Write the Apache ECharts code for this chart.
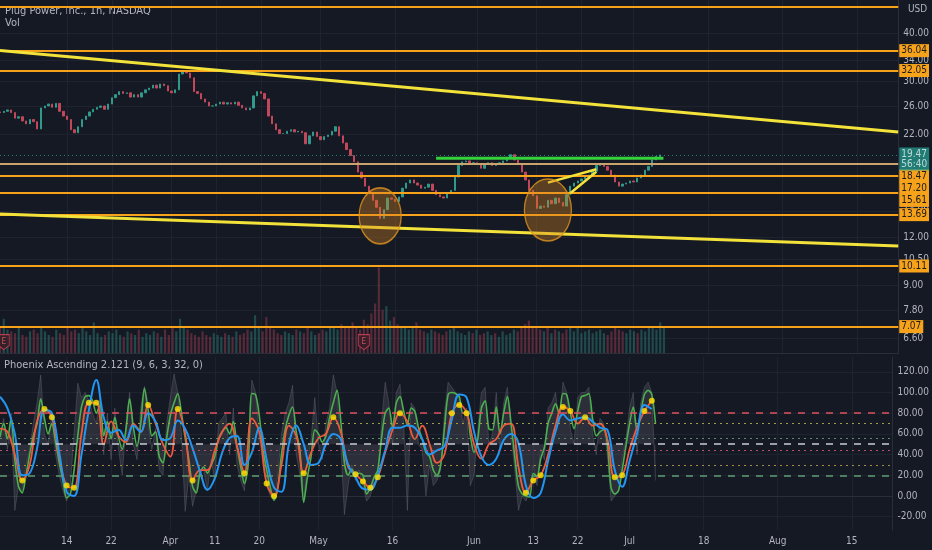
<!DOCTYPE html>
<html lang="en">
<head>
<meta charset="UTF-8"/>
<title>PLUG 1h</title>
<script src="https://cdn.jsdelivr.net/npm/echarts@6/dist/echarts.min.js"></script>
<style>
  html, body { margin: 0; padding: 0; background: #151924; }
  #main { width: 932px; height: 550px; }
</style>
</head>
<body>
<div id="main"></div>
<script>
// ---- data ----
const holidays = ['2022-04-15', '2022-05-30', '2022-06-20', '2022-07-04'];
const tickDates = ['2022-03-14', '2022-03-22', '2022-04-01', '2022-04-11', '2022-04-20', '2022-05-02',
  '2022-05-16', '2022-06-01', '2022-06-13', '2022-06-22', '2022-07-01', '2022-07-18', '2022-08-01', '2022-08-15'];
const tickLabels = ['14', '22', 'Apr', '11', '20', 'May', '16', 'Jun', '13', '22', 'Jul', '18', 'Aug', '15'];
const priceTicks = [40, 34, 30, 26, 22, 14, 12, 10.5, 9, 7.8, 6.6];
const oscTicks = [-20, 0, 20, 40, 60, 80, 100, 120];

// half-day closes, 1 Mar .. 7 Jul 2022
const firstOpen = 25.1;
const closes = [
  25.0, 25.2, 25.4, 25.0, 24.2, 24.4, 23.8, 23.4, 24.0, 23.7,
  22.7, 25.7, 26.0, 26.3, 25.8, 26.4, 25.2, 24.5, 24.0, 22.6,
  22.2, 23.0, 24.0, 24.5, 25.1, 25.5, 25.8, 26.0, 25.5, 26.3,
  27.3, 27.8, 28.3, 28.0, 28.1, 27.4, 27.8, 27.4, 28.1, 28.6,
  28.9, 29.4, 28.9, 29.6, 29.3, 28.4, 28.1, 28.6, 31.4, 32.0,
  31.6, 30.7, 28.3, 28.0, 27.1, 26.6, 26.0, 26.0, 26.3, 26.6,
  26.3, 26.5, 26.3, 26.6, 26.1, 25.7, 25.4, 25.7, 27.6, 28.3,
  28.0, 27.1, 24.5, 23.4, 22.6, 22.1, 22.1, 22.4, 22.6, 22.3,
  22.4, 22.2, 20.8, 21.8, 22.3, 21.7, 21.3, 21.7, 21.9, 22.4,
  23.0, 21.8, 20.9, 20.1, 19.4, 18.7, 17.6, 17.0, 16.2, 15.6,
  14.9, 14.3, 13.4, 14.1, 15.1, 15.0, 14.8, 15.2, 16.0, 16.5,
  16.8, 16.5, 16.3, 16.0, 16.1, 16.4, 15.8, 15.4, 15.2, 15.1,
  15.5, 15.8, 17.1, 18.3, 18.7, 18.8, 18.4, 18.6, 18.4, 18.0,
  18.5, 18.6, 18.3, 18.5, 18.6, 18.8, 19.2, 19.5, 18.9, 18.4,
  17.6, 16.8, 15.8, 15.3, 14.2, 14.4, 14.3, 14.9, 14.6, 15.1,
  14.7, 14.4, 15.4, 16.2, 16.5, 16.7, 16.9, 17.1, 17.3, 17.7,
  18.3, 18.4, 18.2, 17.8, 17.3, 16.6, 16.2, 16.4, 16.5, 16.7,
  16.6, 17.0, 17.3, 17.8, 18.2, 18.9, 19.3, 19.47
];
const volumes = [
  30, 38, 26, 24, 22, 28, 20, 18, 24, 26,
  22, 30, 24, 20, 18, 26, 22, 20, 28, 24,
  26, 22, 30, 24, 20, 34, 22, 18, 20, 24,
  22, 26, 20, 18, 24, 22, 20, 26, 18, 22,
  20, 24, 22, 18, 26, 20, 28, 24, 38, 30,
  26, 22, 20, 18, 24, 20, 18, 22, 20, 18,
  22, 20, 18, 24, 20, 22, 26, 24, 42, 30,
  24, 40, 28, 26, 22, 20, 24, 22, 20, 26,
  24, 22, 28, 24, 20, 22, 26, 24, 28, 30,
  26, 32, 28, 30, 34, 30, 26, 37, 32, 44,
  55, 95, 48, 52, 36, 40, 32, 30, 28, 26,
  30, 34, 26, 24, 22, 26, 24, 22, 20, 24,
  26, 30, 24, 22, 20, 24, 22, 26, 20, 22,
  24, 20, 22, 18, 24, 20, 22, 26, 24, 30,
  32, 36, 28, 30, 26, 24, 28, 22, 26, 24,
  22, 26, 30, 24, 28, 22, 24, 26, 22, 24,
  26, 22, 20, 24, 28, 26, 24, 22, 26, 24,
  22, 26, 24, 28, 30, 26, 34, 30
];

// drawn levels and lines (prices)
const levelPrices = [46.8, 36.04, 32.05, 18.47, 17.20, 15.61, 13.69, 10.11, 7.07];
const lastPrice = 19.47;
const countdown = '56:40';
const greenLevel = { from: 117, to: 178, price: 19.1 };
const trendLines = [
  [[0, 36.1], [241, 22.3]],
  [[0, 13.75], [241, 11.38]],
  [[147, 16.54], [160, 17.9]],
  [[153, 15.53], [160, 17.64]]
];
const ellipseCenters = [[102, 13.59], [147, 14.07]];
const earningsDays = ['2022-03-01', '2022-05-09'];

// oscillator: fast (green) and histogram (grey) per half-day, red/blue per day
const greenOsc = [
  57, 70, 55, 75, 35, 9, 3, 20, 40, 58,
  70, 94, 75, 60, 70, 52, 32, 15, -2, 2,
  25, 58, 86, 96, 97, 92, 80, 88, 58, 72,
  55, 76, 57, 45, 64, 94, 67, 48, 70, 104,
  83, 58, 62, 38, 32, 56, 78, 90, 99, 80,
  56, 35, 9, 3, 22, 28, 22, 30, 38, 55,
  62, 66, 60, 72, 48, 28, 12, 30, 99, 98,
  78, 45, 25, 8, -4, 8, 40, 64, 78, 86,
  62, 44, -6, 18, 38, 64, 60, 52, 58, 76,
  90, 102, 73, 32, 20, 26, 20, 22, 20, 2,
  8, 18, 25, 55, 80, 85, 66, 90, 96, 82,
  68, 85, 82, 66, 55, 42, 38, 25, 20, 30,
  65, 98, 100, 99, 96, 80, 82, 58, 42, 55,
  85, 92, 65, 64, 86, 60, 80, 96, 70, 38,
  9, 2, 0, -1, 22, 19, 36, 47, 70, 80,
  89, 80, 99, 98, 80, 65, 82, 96, 97, 99,
  75, 58, 62, 64, 50, 8, 2, 5, 25, 48,
  70, 86, 64, 80, 98, 102, 98, 70
];
const greyOsc = [
  60, 75, 45, 80, -14, 10, 5, 30, 45, 70,
  90, 117, 60, 50, 80, 40, 20, 5, -5, 10,
  60, 109, 95, 100, 92, 80, 70, 95, 40, 80,
  35, 85, 45, 20, 70, 100, 50, 35, 85, 106,
  70, 45, 65, 25, 20, 70, 95, 118, 100, 60,
  -15, 20, -10, 5, 30, 25, 5, 35, 15, 70,
  75, 80, 40, 85, 30, 15, 5, 45, 112, 100,
  60, 30, 10, 0, -5, 20, 60, 80, 90, 107,
  40, 20, -7, 30, 55, 95, 50, 35, 70, 85,
  117, 100, 50, -18, 10, 30, 15, 25, 10, -5,
  0, 15, 20, 70, 110, 90, 50, 100, 108, 70,
  -14, 90, 85, 50, 45, 0, 30, 10, 15, 25,
  80, 110, 105, 100, 95, 70, 85, 10, 20, 65,
  100, 105, 50, 60, 100, 45, 90, 105, 60, 25,
  -14, 0, -5, 5, 30, 10, 45, 35, 85, 90,
  100, 70, 110, 100, 65, 50, 95, 100, 100, 105,
  60, 40, 75, 70, 40, -5, 0, 5, 35, 55,
  85, 100, 40, 90, 105, 110, 100, 15
];
const redOsc = [
  65, 62, 40, 15, 30, 72, 84, 76, 38, 10,
  8, 60, 90, 90, 50, 72, 58, 52, 70, 62,
  88, 70, 50, 38, 84, 60, 15, 25, 25, 44,
  62, 70, 48, 22, 75, 62, 12, 0, 30, 68,
  58, 22, 42, 56, 60, 76, 62, 28, 21, 14,
  8, 18, 42, 64, 80, 72, 55, 68, 50, 32,
  40, 80, 88, 80, 50, 36, 50, 55, 68, 70,
  28, 3, 15, 20, 40, 68, 86, 82, 70, 76,
  68, 70, 55, 18, 20, 45, 66, 82, 92
];
const blueOsc = [
  96, 85, 60, 20, 22, 46, 83, 80, 42, 4,
  0, 40, 83, 112, 76, 61, 64, 54, 68, 62,
  80, 72, 54, 56, 73, 65, 46, 24, 6, 17,
  42, 56, 58, 30, 42, 66, 35, 8, 4, 50,
  68, 50, 30, 32, 50, 60, 55, 30, 18, 7,
  6, 20, 44, 66, 66, 68, 66, 55, 40, 44,
  48, 74, 98, 95, 62, 38, 30, 36, 54, 60,
  51, 10, -2, 3, 34, 62, 79, 73, 75, 76,
  72, 66, 64, 25, 9, 34, 60, 88, 84
];
const oscLevels = [80, 70, 56, 50, 44, 30, 20];

// ---- axis categories (trading half-days) ----
function buildDays() {
  const out = [];
  const d = new Date(Date.UTC(2022, 2, 1));
  const end = Date.UTC(2022, 7, 22);
  while (d.getTime() <= end) {
    const wd = d.getUTCDay();
    const s = d.toISOString().slice(0, 10);
    if (wd !== 0 && wd !== 6 && holidays.indexOf(s) < 0) out.push(s);
    d.setUTCDate(d.getUTCDate() + 1);
  }
  return out;
}
const days = buildDays();
const halfDays = [];
days.forEach(function (d) { halfDays.push(d + ' AM', d + ' PM'); });

const tickMap = {};
tickDates.forEach(function (d, i) { tickMap[d + ' AM'] = tickLabels[i]; });
const isTick = function (i, v) { return tickMap[v] !== undefined; };

const upColor = '#2f998c';
const downColor = '#c1485a';
const candles = closes.map(function (c, i) {
  const o = i === 0 ? firstOpen : closes[i - 1];
  return [o, c, Math.min(o, c), Math.max(o, c)];
});
const volData = volumes.map(function (v, i) {
  const up = candles[i][1] >= candles[i][0];
  return { value: v, itemStyle: { color: up ? 'rgba(47,153,140,0.38)' : 'rgba(193,72,90,0.38)' } };
});
const dailyPts = function (arr) { return arr.map(function (v, d) { return [2 * d, v]; }); };
const dots = dailyPts(redOsc).filter(function (p) { return p[1] >= 76 || p[1] <= 22; });

// ---- styles ----
const font = "'DejaVu Sans Condensed', 'Liberation Sans Narrow', 'Roboto', sans-serif";
const txt = '#b2b5be';
const gridLine = '#1f2330';
const sepLine = '#2a2e39';
const levelColor = '#f7a21b';
const nudge = { 18.47: 12, 17.2: 12, 15.61: 8 };
const oscStyle = {
  80: { color: '#e0525c', type: [7, 7], width: 1.5 },
  70: { color: '#9f9d4a', type: [2, 4], width: 1.2 },
  56: { color: '#5c8c6a', type: [2, 4], width: 1.2 },
  50: { color: '#c9cbd1', type: [7, 7], width: 1.5 },
  44: { color: '#b9506e', type: [2, 4], width: 1.2 },
  30: { color: '#a68a48', type: [2, 4], width: 1.2 },
  20: { color: '#5f9e72', type: [7, 7], width: 1.5 }
};

const levelLines = levelPrices.map(function (p, i) {
  return {
    yAxis: p,
    lineStyle: { color: p === 18.47 ? '#c9a46c' : levelColor, width: 2, type: 'solid' },
    label: i === 0 ? { show: false } : {
      show: true, position: 'end', distance: 1, formatter: p.toFixed(2),
      backgroundColor: levelColor, color: '#1b1b1b', padding: [2, 2, 1, 2],
      fontSize: 10, fontFamily: font, offset: [0, nudge[p] || 0]
    }
  };
});
levelLines.push({
  yAxis: lastPrice,
  lineStyle: { color: '#26a69a', width: 1, type: [1, 3], opacity: 0.7 },
  label: {
    show: true, position: 'end', distance: 1, formatter: lastPrice.toFixed(2) + '\n' + countdown,
    backgroundColor: '#26a69a', color: '#ffffff', padding: [2, 2, 1, 2], lineHeight: 10,
    fontSize: 10, fontFamily: font, offset: [0, 4]
  }
});

const catAxis = function (gridIndex, showLabels) {
  return {
    type: 'category', gridIndex: gridIndex, data: halfDays, boundaryGap: false,
    axisTick: { show: false },
    axisLine: { show: gridIndex !== 1, lineStyle: { color: sepLine } },
    axisLabel: { show: showLabels, interval: isTick, formatter: function (v) { return tickMap[v] || ''; },
      color: txt, fontSize: 10, fontFamily: font, margin: 6 },
    splitLine: { show: gridIndex !== 1, interval: isTick, lineStyle: { color: gridLine } }
  };
};

const chart = echarts.init(document.getElementById('main'));
chart.setOption({
  animation: false,
  backgroundColor: '#151924',
  textStyle: { fontFamily: font },
  grid: [
    { left: 0, right: 28, top: 0, height: 353 },
    { left: 0, right: 28, top: 263, height: 90 },
    { left: 0, right: 28, top: 357, height: 173 }
  ],
  xAxis: [catAxis(0, false), catAxis(1, false), catAxis(2, true)],
  yAxis: [
    {
      type: 'log', gridIndex: 0, position: 'right', min: 6.05, max: 48.6,
      axisLine: { show: true, lineStyle: { color: sepLine } },
      axisTick: { show: false, customValues: priceTicks },
      axisLabel: { customValues: priceTicks, formatter: function (v) { return (+v).toFixed(2); },
        color: txt, fontSize: 10, margin: 5 },
      splitLine: { show: true, lineStyle: { color: gridLine } }
    },
    { type: 'value', gridIndex: 1, min: 0, max: 100, show: false },
    {
      type: 'value', gridIndex: 2, position: 'right', min: -32.9, max: 134.3,
      axisLine: { show: true, lineStyle: { color: sepLine } },
      axisTick: { show: false, customValues: oscTicks },
      axisLabel: { customValues: oscTicks, formatter: function (v) { return (+v).toFixed(2); },
        color: txt, fontSize: 10, margin: 5 },
      splitLine: { show: true, lineStyle: { color: gridLine } }
    }
  ],
  graphic: [
    { type: 'text', left: 5, top: 6, style: { text: 'Plug Power, Inc., 1h, NASDAQ', fill: txt, font: '11px ' + font } },
    { type: 'text', left: 5, top: 18, style: { text: 'Vol', fill: txt, font: '11px ' + font } },
    { type: 'text', left: 4, top: 360, style: { text: 'Phoenix Ascending 2.121 (9, 6, 3, 32, 0)', fill: txt, font: '11px ' + font } },
    { type: 'text', left: 908, top: 4, style: { text: 'USD', fill: txt, font: '10px ' + font } }
  ],
  series: [
    {
      type: 'bar', xAxisIndex: 1, yAxisIndex: 1, data: volData, barWidth: 2.2, silent: true
    },
    {
      type: 'scatter', xAxisIndex: 1, yAxisIndex: 1, silent: true, z: 4,
      data: earningsDays.map(function (d) { return [halfDays.indexOf(d + ' PM'), 12]; }),
      symbol: 'path://M0,0 L10,0 L10,10 L5,14 L0,10 Z', symbolSize: [11, 15],
      itemStyle: { color: '#3a1d27', borderColor: '#d9435a', borderWidth: 1 },
      label: { show: true, formatter: 'E', color: '#e0566a', fontSize: 9, position: 'inside', offset: [0, -1] }
    },
    {
      type: 'candlestick', xAxisIndex: 0, yAxisIndex: 0, data: candles, barWidth: 1.8,
      itemStyle: { color: upColor, color0: downColor, borderColor: upColor, borderColor0: downColor, borderWidth: 1 },
      markLine: { symbol: 'none', silent: true, animation: false, data: levelLines }
    },
    {
      type: 'line', xAxisIndex: 0, yAxisIndex: 0, silent: true, symbol: 'none', z: 5,
      data: [[greenLevel.from, greenLevel.price], [greenLevel.to, greenLevel.price]],
      lineStyle: { color: '#35d13a', width: 3 }
    }
  ].concat(trendLines.map(function (seg, i) {
    return {
      type: 'line', xAxisIndex: 0, yAxisIndex: 0, silent: true, symbol: 'none', z: 5, data: seg,
      lineStyle: { color: '#f2e23a', width: i < 2 ? 3 : 2.5 }
    };
  })).concat([
    {
      type: 'scatter', xAxisIndex: 0, yAxisIndex: 0, silent: true, z: 6,
      data: [
        { value: ellipseCenters[0], symbolSize: [42, 56] },
        { value: ellipseCenters[1], symbolSize: [47, 62] }
      ],
      itemStyle: { color: 'rgba(214,130,30,0.45)', borderColor: '#e0951f', borderWidth: 1.5 }
    },
    {
      type: 'line', xAxisIndex: 2, yAxisIndex: 2, data: greyOsc, symbol: 'none', silent: true,
      lineStyle: { color: 'rgba(130,133,144,0.5)', width: 0.6 },
      areaStyle: { origin: 50, color: 'rgba(120,123,134,0.33)' },
      markLine: {
        symbol: 'none', silent: true, animation: false, label: { show: false },
        data: oscLevels.map(function (v) { return { yAxis: v, lineStyle: oscStyle[v] }; })
      }
    },
    {
      type: 'line', xAxisIndex: 2, yAxisIndex: 2, data: greenOsc, symbol: 'none', smooth: 0.3, silent: true,
      lineStyle: { color: '#4caf50', width: 1.6 }
    },
    {
      type: 'line', xAxisIndex: 2, yAxisIndex: 2, data: dailyPts(redOsc), symbol: 'none', smooth: 0.4, silent: true,
      lineStyle: { color: '#ef5a3c', width: 1.8 }
    },
    {
      type: 'line', xAxisIndex: 2, yAxisIndex: 2, data: dailyPts(blueOsc), symbol: 'none', smooth: 0.4, silent: true,
      lineStyle: { color: '#2196f3', width: 2 }
    },
    {
      type: 'scatter', xAxisIndex: 2, yAxisIndex: 2, data: dots, symbolSize: 6, silent: true, z: 6,
      itemStyle: { color: '#ffe600' }
    }
  ])
});
</script>
</body>
</html>
